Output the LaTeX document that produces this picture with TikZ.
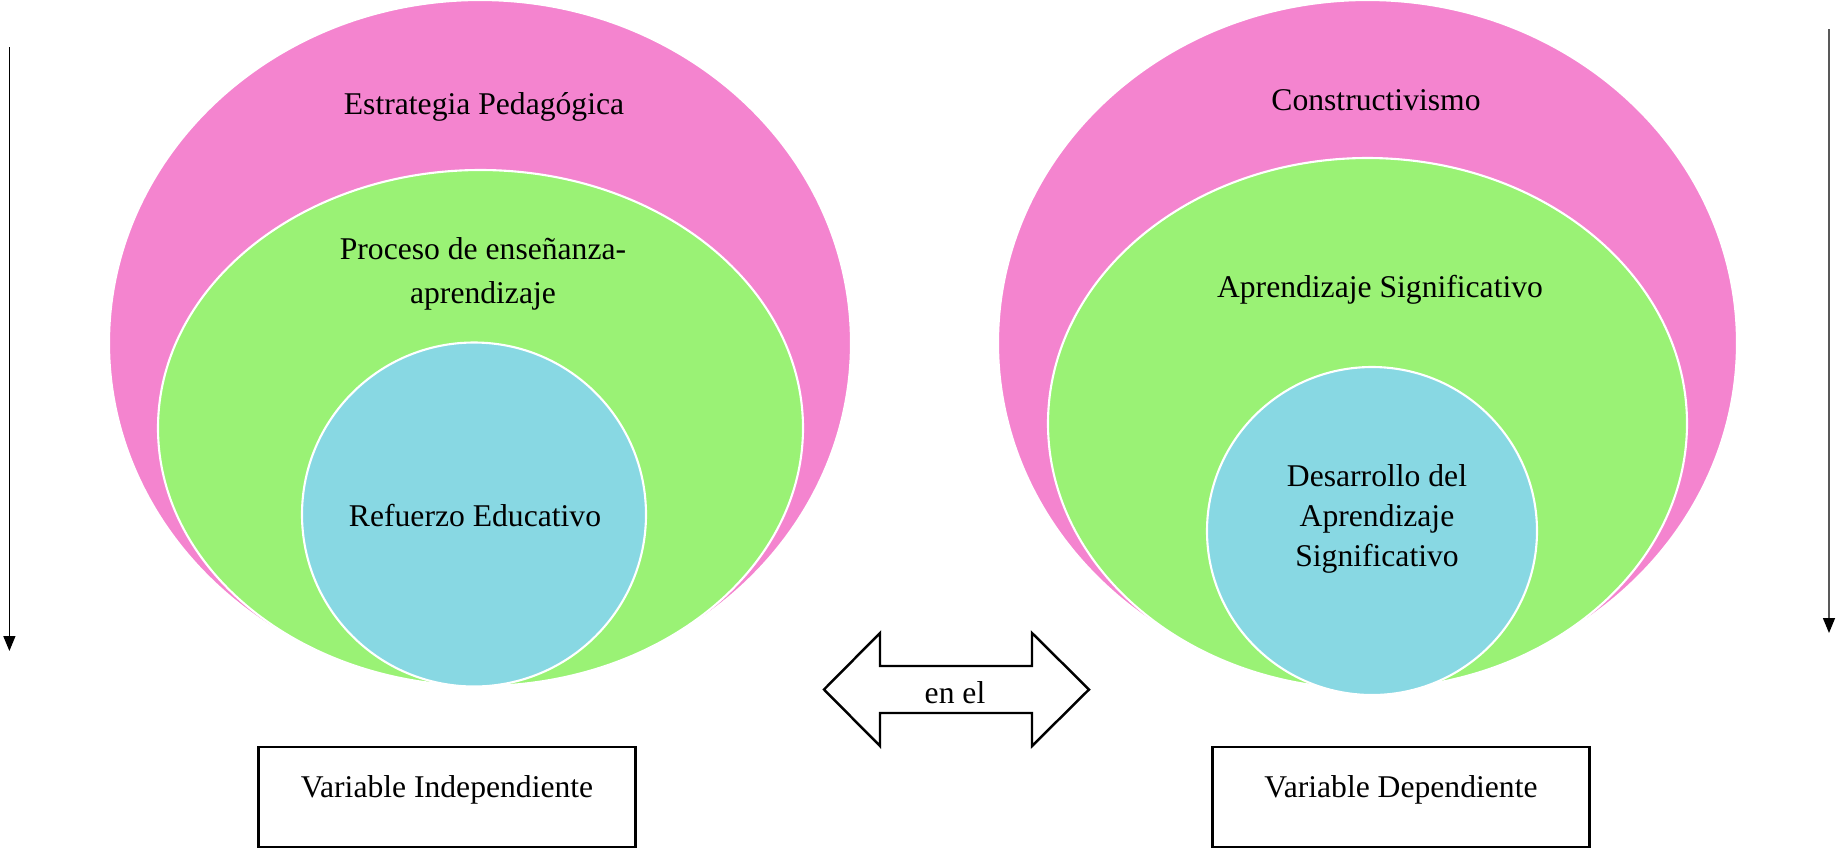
\documentclass[tikz,border=0pt]{standalone}
\usepackage{fontspec}
\setmainfont{Liberation Serif}
\usepackage{tikz}
\usetikzlibrary{arrows.meta,positioning,shapes.geometric}
\definecolor{pinkfill}{RGB}{244,132,207}
\definecolor{greenfill}{RGB}{154,242,117}
\definecolor{bluefill}{RGB}{136,216,227}

\begin{document}
\begin{tikzpicture}[
    font=\fontsize{9}{11.5}\selectfont,
    ell/.style={ellipse, draw=white, line width=0.6pt, inner sep=0pt},
    lbl/.style={align=center, inner sep=0pt},
    varbox/.style={draw, line width=0.7pt, minimum width=3.77cm, minimum height=1cm, inner sep=0pt, text height=0.5cm, text depth=0.5cm},
    down/.style={-{Triangle[width=0.12cm, length=0.15cm, color=black]}, line width=0.4pt}
]
\useasboundingbox (0,0) rectangle (18.38,-8.51);
% left side
\node[ell, fill=pinkfill, minimum width=7.42cm, minimum height=6.86cm] (estr) at (4.80,-3.43) {};
\node[ell, fill=greenfill, minimum width=6.45cm, minimum height=5.16cm] (proc) at (4.805,-4.28) {};
\node[ell, fill=bluefill, minimum width=3.44cm, minimum height=3.44cm] (refu) at (4.74,-5.145) {};
\node[lbl] (estrtxt) at (4.84,-1.065) {Estrategia Pedagógica};
\node[lbl] (proctxt) at (4.83,-2.74) {Proceso de enseñanza-\\[1pt]aprendizaje};
\node[lbl] (refutxt) at (4.75,-5.16) {Refuerzo Educativo};
% right side
\node[ell, fill=pinkfill, minimum width=7.39cm, minimum height=6.86cm] (cons) at (13.675,-3.43) {};
\node[ell, fill=greenfill, minimum width=6.39cm, minimum height=5.31cm] (apre) at (13.675,-4.235) {};
\node[ell, fill=bluefill, minimum width=3.30cm, minimum height=3.28cm] (desa) at (13.72,-5.31) {};
\node[lbl] (constxt) at (13.76,-1.0) {Constructivismo};
\node[lbl] (apretxt) at (13.80,-2.90) {Aprendizaje Significativo};
\node[lbl] (desatxt) at (13.77,-5.19) {Desarrollo del\\Aprendizaje\\Significativo};
% middle
\draw[line width=0.7pt] (8.24,-6.895) -- (8.80,-6.33) -- (8.80,-6.66) -- (10.32,-6.66) -- (10.32,-6.33)
    -- (10.89,-6.895) -- (10.32,-7.46) -- (10.32,-7.13) -- (8.80,-7.13) -- (8.80,-7.46) -- cycle;
\node[lbl] (enel) at (9.55,-6.93) {en el};
\node[varbox] (vind) at (4.47,-7.97) {Variable Independiente};
\node[varbox] (vdep) at (14.01,-7.97) {Variable Dependiente};
% edge arrows
\coordinate (ltop) at (0.094,-0.47);
\coordinate (lbot) at (0.094,-6.51);
\coordinate (rtop) at (18.29,-0.29);
\coordinate (rbot) at (18.29,-6.33);
\draw[down] (ltop) -- (lbot);
\draw[down, gray!70!black] (rtop) -- (rbot);
\end{tikzpicture}
\end{document}
